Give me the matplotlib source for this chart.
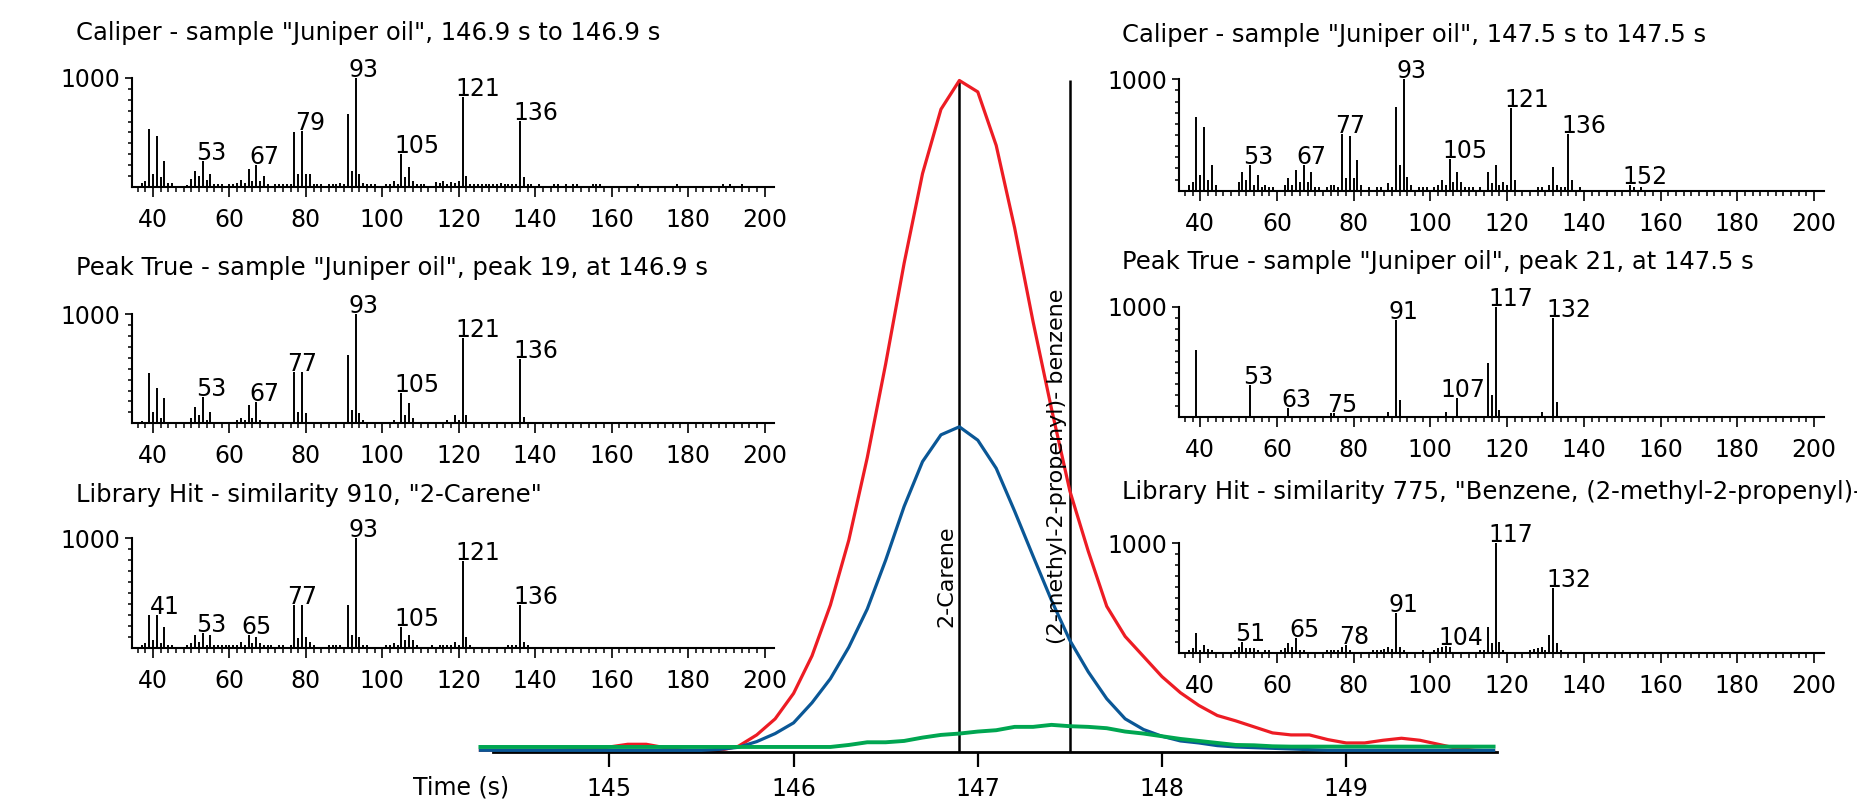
import numpy as np
import matplotlib
matplotlib.use("Agg")
import matplotlib.pyplot as plt
from matplotlib.ticker import FixedLocator

plt.rcParams['font.family'] = ['DejaVu Sans']

W, H, DPI = 1857, 805, 100

# ---------------- chromatogram data ----------------
time_s = [144.3, 144.4, 144.5, 144.6, 144.7, 144.8, 144.9, 145.0, 145.1, 145.2,
          145.3, 145.4, 145.5, 145.6, 145.7, 145.8, 145.9, 146.0, 146.1, 146.2,
          146.3, 146.4, 146.5, 146.6, 146.7, 146.8, 146.9, 147.0, 147.1, 147.2,
          147.3, 147.4, 147.5, 147.6, 147.7, 147.8, 147.9, 148.0, 148.1, 148.2,
          148.3, 148.4, 148.5, 148.6, 148.7, 148.8, 148.9, 149.0, 149.1, 149.2,
          149.3, 149.4, 149.5, 149.6, 149.7, 149.8]
tic_red = [0, 0, 0, 0, 0, 0.1, 0.1, 0.5, 0.9, 0.9,
           0.4, 0, -0.1, 0, 0.6, 2.3, 4.7, 8.5, 14.1, 21.7,
           31.4, 43.7, 57.7, 72.7, 86.1, 95.7, 100, 98.3, 90.3, 78,
           64, 51, 38.7, 29.7, 21.5, 17, 14, 11, 8.6, 6.7,
           5.2, 4.4, 3.5, 2.6, 2.3, 2.3, 1.6, 1.1, 1.1, 1.5,
           1.8, 1.5, 0.9, 0.3, 0, -0.1]
eic_blue = [0, 0, 0, 0, 0, 0, 0, 0, 0, 0,
            0, 0, 0, 0.15, 0.45, 1.3, 2.5, 4.1, 7.1, 10.7,
            15.4, 21.1, 28.4, 36.4, 43.1, 47.1, 48.3, 46.3, 42.1, 35.7,
            29, 22.4, 16.4, 11.7, 7.7, 4.7, 3.1, 2.1, 1.4, 1.1,
            0.7, 0.5, 0.4, 0.3, 0.2, 0.1, 0, 0, 0, 0,
            0, 0, 0, 0, 0, 0]
eic_green = [0.5, 0.5, 0.5, 0.5, 0.5, 0.5, 0.5, 0.5, 0.5, 0.5,
             0.5, 0.5, 0.5, 0.5, 0.5, 0.5, 0.5, 0.5, 0.5, 0.5,
             0.8, 1.2, 1.2, 1.4, 1.9, 2.3, 2.5, 2.8, 3.0, 3.5,
             3.5, 3.8, 3.6, 3.5, 3.3, 2.8, 2.5, 2.1, 1.7, 1.4,
             1.1, 0.8, 0.75, 0.6, 0.55, 0.55, 0.55, 0.55, 0.55, 0.55,
             0.55, 0.55, 0.55, 0.55, 0.55, 0.55]
peak_times = [146.9, 147.5]
peak_names = ["2-Carene", "(2-methyl-2-propenyl)- benzene"]
time_ticks = [145, 146, 147, 148, 149]

# ---------------- spectra data ----------------
s1_title = 'Caliper - sample "Juniper oil", 146.9 s to 146.9 s'
s1_mz = [37, 38, 39, 40, 41, 42, 43, 44, 45,
         49, 50, 51, 52, 53, 54, 55, 56, 57, 58,
         60, 61, 62, 63, 64, 65, 66, 67, 68, 69, 70,
         72, 73, 74, 75, 76, 77, 78, 79, 80, 81, 82, 83, 84,
         86, 87, 88, 89, 90, 91, 92, 93, 94, 95, 96, 97, 98,
         101, 102, 103, 104, 105, 106, 107, 108, 109, 110, 111,
         114, 115, 116, 117, 118, 119, 120, 121, 122, 123, 124, 125, 126,
         127, 128, 129, 130, 131, 132, 133, 134, 135, 136, 137, 138, 139,
         141, 145, 146, 148, 150, 151, 155, 156, 157, 167, 177, 189, 191, 194]
s1_int = [36, 58, 529, 122, 471, 97, 243, 36, 36,
          20, 76, 152, 106, 243, 67, 122, 30, 30, 30,
          30, 30, 40, 70, 40, 167, 60, 204, 60, 106, 30,
          30, 30, 30, 30, 30, 502, 122, 517, 122, 122, 30, 30, 30,
          30, 30, 30, 40, 30, 669, 152, 1000, 122, 36, 30, 30, 30,
          30, 30, 60, 30, 304, 91, 182, 60, 30, 30, 30,
          50, 40, 60, 30, 50, 40, 60, 821, 106, 30, 30, 30, 30,
          30, 30, 30, 30, 40, 30, 30, 30, 30, 602, 91, 30, 30,
          30, 30, 30, 30, 30, 30, 30, 30, 30, 30, 30, 30, 30, 30]
s1_labels = [53, 67, 79, 93, 105, 121, 136]

s2_title = 'Peak True - sample "Juniper oil", peak 19, at 146.9 s'
s2_mz = [37, 39, 40, 41, 42, 43, 44,
         49, 50, 51, 52, 53, 54, 55, 56, 57, 58,
         62, 63, 64, 65, 66, 67, 68,
         73, 74, 75, 76, 77, 78, 79, 80,
         86, 88,
         91, 92, 93, 94, 95, 96, 97,
         99,
         102, 103, 104, 105, 106, 107, 108,
         110, 112,
         114, 115, 116, 117,
         119, 120, 121, 122, 123,
         125, 127, 129, 133, 135,
         136, 137, 138,
         142, 143, 145, 168]
s2_int = [20, 457, 107, 320, 46, 229, 15,
          15, 46, 152, 76, 244, 30, 107, 15, 15, 15,
          30, 46, 30, 168, 46, 198, 30,
          15, 15, 15, 15, 472, 107, 472, 91,
          15, 15,
          625, 122, 1000, 91, 30, 15, 15,
          15,
          15, 30, 15, 274, 76, 183, 46,
          15, 15,
          15, 15, 15, 30,
          76, 30, 777, 76, 15,
          15, 15, 15, 15, 15,
          585, 61, 15,
          15, 15, 15, 15]
s2_labels = [53, 67, 77, 93, 105, 121, 136]

s3_title = 'Library Hit - similarity 910, "2-Carene"'
s3_mz = [37, 38, 39, 40, 41, 42, 43, 44, 45,
         49, 50, 51, 52, 53, 54, 55, 56, 57, 58, 59, 60, 61, 62, 63, 64, 65,
         66, 67, 68, 69, 70, 71,
         73, 74, 76, 77, 78, 79, 80, 81, 82,
         86, 87, 88, 89,
         91, 92, 93, 94, 95, 96,
         101, 102, 103, 104, 105, 106, 107, 108, 109,
         113,
         115, 116, 117, 118, 119, 120, 121, 122, 123,
         133, 134, 135, 136, 137, 138]
s3_int = [30, 45, 303, 76, 303, 45, 197, 30, 30,
          30, 45, 121, 61, 136, 30, 121, 30, 30, 30, 30, 30, 30, 30, 61, 30, 121,
          45, 106, 45, 30, 30, 30,
          30, 30, 30, 394, 91, 394, 106, 61, 30,
          30, 30, 30, 30,
          394, 121, 1000, 106, 30, 30,
          30, 30, 45, 30, 197, 76, 121, 76, 30,
          30,
          30, 30, 30, 30, 61, 30, 794, 106, 30,
          30, 30, 30, 394, 61, 30]
s3_labels = [41, 53, 65, 77, 93, 105, 121, 136]

r1_title = 'Caliper - sample "Juniper oil", 147.5 s to 147.5 s'
r1_mz = [37, 38, 39, 40, 41, 42, 43, 44,
         50, 51, 52, 53, 54, 55, 56, 57, 58, 59,
         62, 63, 64, 65, 66, 67, 68, 69, 70, 71,
         73, 74, 75, 76, 77, 78, 79, 80, 81, 82,
         84, 86, 87, 89, 90, 91, 92, 93, 94, 95,
         97, 98, 99, 101, 102, 103, 104, 105, 106, 107, 108, 109, 110, 111, 113,
         115, 116, 117, 118, 119, 120, 121, 122,
         128, 129, 131, 132, 133, 134, 135, 136, 137, 139,
         152, 153, 155]
r1_int = [51, 81, 665, 141, 575, 96, 231, 51,
          81, 171, 96, 231, 51, 141, 36, 51, 36, 36,
          51, 111, 51, 186, 81, 231, 81, 171, 36, 36,
          36, 51, 51, 36, 509, 111, 494, 111, 275, 51,
          36, 36, 36, 66, 36, 754, 231, 1000, 126, 51,
          36, 36, 36, 36, 51, 96, 51, 284, 81, 171, 81, 36, 36, 36, 36,
          171, 66, 231, 51, 81, 51, 740, 96,
          36, 36, 51, 216, 51, 36, 36, 509, 96, 36,
          51, 36, 36]
r1_labels = [53, 67, 77, 93, 105, 121, 136, 152]

r2_title = 'Peak True - sample "Juniper oil", peak 21, at 147.5 s'
r2_mz = [39, 53, 63, 74, 75, 89, 91, 92, 104, 107, 115, 116, 117, 118, 129, 132, 133]
r2_int = [606, 288, 76, 30, 30, 45, 879, 152, 45, 167, 485, 197, 1000, 61, 45, 894, 136]
r2_labels = [53, 63, 75, 91, 107, 117, 132]

r3_title = 'Library Hit - similarity 775, "Benzene, (2-methyl-2-propenyl)-"'
r3_mz = [37, 38, 39, 40, 41, 42, 43,
         49, 50, 51, 52, 53, 54, 55, 57, 58,
         61, 62, 63, 64, 65, 66, 67,
         73, 74, 75, 76, 77, 78, 79,
         85, 86, 87, 88, 89, 90, 91, 92, 93,
         98, 101, 102, 103, 104, 105,
         113, 114, 115, 116, 117, 118, 119,
         126, 127, 128, 129, 130, 131, 132, 133, 134]
r3_int = [25, 40, 177, 25, 70, 30, 25,
          25, 55, 100, 40, 40, 40, 25, 25, 25,
          25, 40, 85, 55, 131, 25, 25,
          25, 25, 25, 25, 55, 70, 25,
          25, 25, 25, 30, 55, 30, 360, 55, 25,
          25, 25, 40, 55, 64, 50,
          25, 25, 238, 85, 1000, 100, 25,
          25, 30, 40, 55, 25, 162, 588, 85, 25]
r3_labels = [51, 65, 78, 91, 104, 117, 132]

# ---------------- figure ----------------
fig = plt.figure(figsize=(W / DPI, H / DPI), dpi=DPI)
renderer = fig.canvas.get_renderer()


def px_rect(x0, ytop, x1, ybot):
    return [x0 / W, 1 - ybot / H, (x1 - x0) / W, (ybot - ytop) / H]


# chromatogram
axc = fig.add_axes(px_rect(462, 60, 1512, 755))
axc.set_facecolor('none')
axc.set_xlim(144.2, 149.9)
axc.set_ylim(-0.70, 103.06)
for s in ('top', 'right', 'left'):
    axc.spines[s].set_visible(False)
axc.spines['bottom'].set_position(('data', -0.21))
axc.spines['bottom'].set_bounds(144.37, 149.82)
axc.spines['bottom'].set_linewidth(2.0)
axc.set_yticks([])
axc.set_xticks(time_ticks)
axc.set_xticklabels([str(t) for t in time_ticks])
axc.tick_params(axis='x', direction='out', length=10.8, width=1.6, pad=7.6, labelsize=17)
axc.vlines(peak_times, -0.21, max(tic_red), colors='black', linewidth=1.8, zorder=1)
axc.plot(time_s, tic_red, color='#ED1C24', lw=2.3, zorder=2, clip_on=False)
axc.plot(time_s, eic_blue, color='#0A5796', lw=2.3, zorder=3, clip_on=False)
axc.plot(time_s, eic_green, color='#00A651', lw=2.8, zorder=4, clip_on=False)
label_bottoms = [18.4, 15.9]
for t, name, yb in zip(peak_times, peak_names, label_bottoms):
    axc.annotate(name, xy=(t, yb), xytext=(-3, 0), textcoords='offset pixels',
                 rotation=90, ha='right', va='bottom', fontsize=16)
fig.text(509 / W, 1 - 787 / H, 'Time (s)', ha='right', va='center', fontsize=17)


def draw_spectrum(rect, title, title_xy, mz, inten, labels):
    assert len(mz) == len(inten), (title, len(mz), len(inten))
    ax = fig.add_axes(px_rect(*rect))
    ax.set_facecolor('none')
    ax.set_xlim(34.4, 202.6)
    ax.set_ylim(0, 1000)
    for s in ('top', 'right'):
        ax.spines[s].set_visible(False)
    ax.spines['left'].set_linewidth(1.5)
    ax.spines['bottom'].set_linewidth(1.5)
    ax.spines['left'].set_bounds(0, 1000)
    ax.vlines(mz, 0, inten, colors='black', linewidth=1.4, clip_on=False)
    ax.xaxis.set_major_locator(FixedLocator(list(range(40, 201, 20))))
    ax.xaxis.set_minor_locator(FixedLocator(list(range(36, 201, 2))))
    ax.yaxis.set_major_locator(FixedLocator([1000]))
    ax.yaxis.set_minor_locator(FixedLocator(list(range(100, 1000, 100))))
    ax.tick_params(axis='x', which='major', direction='out', length=7, width=1.2,
                   pad=8, labelsize=17)
    ax.tick_params(axis='x', which='minor', direction='out', length=3.8, width=1.1)
    ax.tick_params(axis='y', which='major', direction='out', length=4.8, width=1.2,
                   pad=3.6, labelsize=17)
    ax.tick_params(axis='y', which='minor', direction='out', length=2.9, width=1.1)
    fig.text(title_xy[0] / W, 1 - title_xy[1] / H, title, ha='left', va='center',
             fontsize=17.5)
    bar_px = ax.transData.transform(np.column_stack([mz, np.zeros(len(mz))]))[:, 0]
    for m in labels:
        h = inten[mz.index(m)]
        t = ax.annotate(str(m), xy=(m, h), xytext=(-7, 1), textcoords='offset pixels',
                        ha='left', va='baseline', fontsize=17, annotation_clip=False)
        bb = t.get_window_extent(renderer)
        blockers = [bar_px[i] for i in range(len(mz))
                    if mz[i] != m and inten[i] > h and bb.x0 - 1 < bar_px[i] < bb.x1 + 1]
        if blockers:
            shift = bb.x1 - (min(blockers) - 3)
            t.xyann = (-7 - shift, 1)
    return ax


LX0, LX1 = 131.6, 774.5
RX0, RX1 = 1178.7, 1824.0
draw_spectrum((LX0, 77.7, LX1, 187.3), s1_title, (76.5, 33), s1_mz, s1_int, s1_labels)
draw_spectrum((LX0, 314.0, LX1, 423.3), s2_title, (76.5, 268), s2_mz, s2_int, s2_labels)
draw_spectrum((LX0, 538.3, LX1, 648.3), s3_title, (76.5, 495), s3_mz, s3_int, s3_labels)
draw_spectrum((RX0, 79.3, RX1, 190.7), r1_title, (1121.7, 35), r1_mz, r1_int, r1_labels)
draw_spectrum((RX0, 306.7, RX1, 416.7), r2_title, (1121.7, 262), r2_mz, r2_int, r2_labels)
draw_spectrum((RX0, 543.3, RX1, 652.7), r3_title, (1121.7, 492), r3_mz, r3_int, r3_labels)

fig.savefig('out.png', dpi=DPI)
